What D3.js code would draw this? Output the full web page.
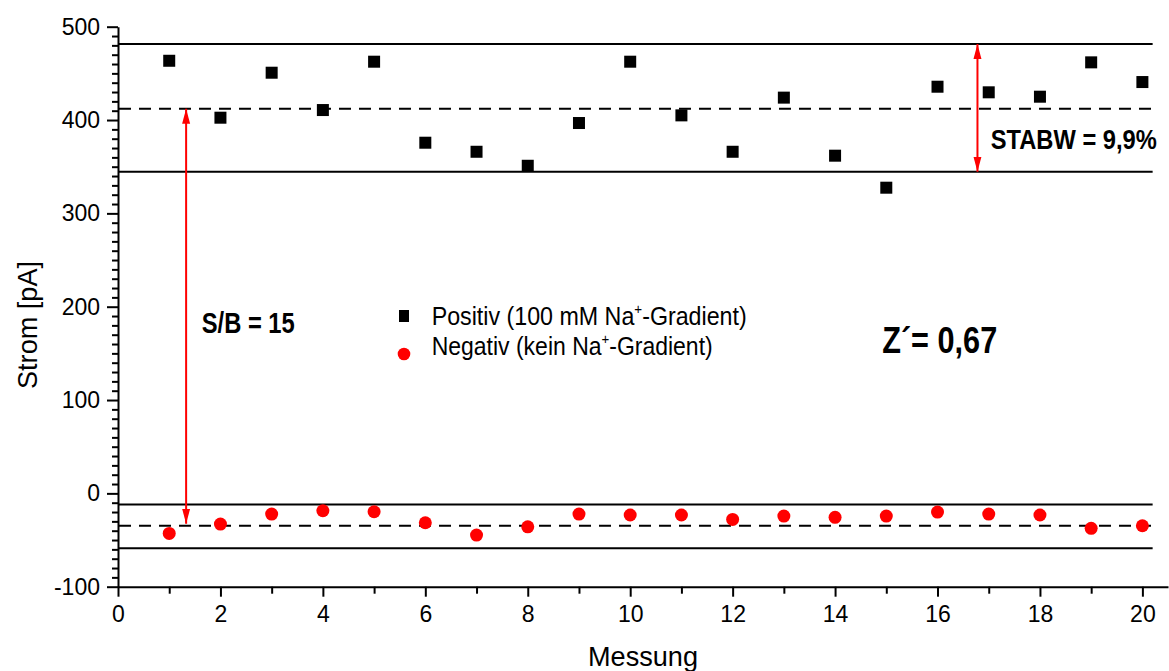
<!DOCTYPE html>
<html>
<head>
<meta charset="utf-8">
<script src="https://cdn.jsdelivr.net/npm/d3@7"></script>
<style>
  body { margin: 0; background: #fff; }
  svg { display: block; font-family: "Liberation Sans", Arial, sans-serif; }
</style>
</head>
<body>
<svg id="chart" width="1169" height="671"></svg>
<script>
// Messung 1..20
const messung = d3.range(1, 21)
const positiv = [463.5, 402.5, 450.7, 410.7, 462.5, 375.7, 366, 351, 396.8, 462.5,
    405, 366, 424, 361.8, 327.5, 435.7, 429.7, 425, 461.8, 440.7]
const negativ = [-42.9, -32.9, -22.2, -18.6, -19.7, -31.5, -44.7, -35.8, -22.2, -23.2,
    -23.2, -27.9, -24.3, -25.7, -24.3, -20, -22.2, -23.2, -37.5, -34.7]

// mean and upper/lower bands
const posLines = { upper: 481.4, mean: 412.1, lower: 344.6 }
const negLines = { upper: -11.8, mean: -34.7, lower: -58.9 }

const yMajorTicks = [-100, 0, 100, 200, 300, 400, 500]
const xMajorTicks = [0, 2, 4, 6, 8, 10, 12, 14, 16, 18, 20]

const legendLabels = [
    { pre: "Positiv (100 mM Na", post: "-Gradient)" },
    { pre: "Negativ (kein Na", post: "-Gradient)" }
]

const svg = d3.select("#chart")
const margin = { top: 26.7, right: 1, bottom: 84.3, left: 118 }
const w = 1169
const h = 671

const x = d3.scaleLinear()
    .domain([0, 20.5])
    .range([margin.left, w - margin.right])
const y = d3.scaleLinear()
    .domain([-100, 500])
    .range([h - margin.bottom, margin.top])

const red = "#ff0000"

// arrow heads
svg.append("defs")
    .append("marker")
    .attr("id", "head")
    .attr("viewBox", "0 -5 16 10")
    .attr("refX", 15)
    .attr("refY", 0)
    .attr("markerUnits", "userSpaceOnUse")
    .attr("markerWidth", 16)
    .attr("markerHeight", 10)
    .attr("orient", "auto-start-reverse")
    .append("path")
    .attr("d", "M0,-4L15,0L0,4Z")
    .attr("fill", red)

// minor ticks first, so the main axis sits on top
const yMinor = d3.range(-100, 501, 10).filter(v => v % 100 !== 0)
svg.append("g")
    .attr("transform", `translate(${margin.left},0)`)
    .call(d3.axisLeft(y).tickValues(yMinor).tickSize(6).tickFormat(""))
    .call(g => g.select(".domain").remove())
    .call(g => g.selectAll("line").attr("stroke-width", 2))

svg.append("g")
    .attr("transform", `translate(0,${y(-100)})`)
    .call(d3.axisBottom(x).tickValues(d3.range(1, 20, 2)).tickSize(7).tickFormat(""))
    .call(g => g.select(".domain").remove())
    .call(g => g.selectAll("line").attr("stroke-width", 2))

const yAxis = svg.append("g")
    .attr("transform", `translate(${margin.left},0)`)
    .call(d3.axisLeft(y).tickValues(yMajorTicks).tickSize(11).tickSizeOuter(0)
        .tickPadding(7).tickFormat(d => String(d)))
yAxis.select(".domain").attr("stroke-width", 2)
yAxis.selectAll("line").attr("stroke-width", 2)
yAxis.selectAll("text").attr("font-size", 23).attr("fill", "#000")
    .attr("font-family", "'Liberation Sans', Arial, sans-serif")

const xAxis = svg.append("g")
    .attr("transform", `translate(0,${y(-100)})`)
    .call(d3.axisBottom(x).tickValues(xMajorTicks).tickSize(10).tickSizeOuter(0)
        .tickPadding(9).tickFormat(d => String(d)))
xAxis.select(".domain").attr("stroke-width", 2)
xAxis.selectAll("line").attr("stroke-width", 2)
xAxis.selectAll("text").attr("font-size", 23).attr("fill", "#000")
    .attr("font-family", "'Liberation Sans', Arial, sans-serif")

// axis titles
svg.append("text")
    .attr("x", (x.range()[0] + x.range()[1]) / 2)
    .attr("y", 666)
    .attr("text-anchor", "middle")
    .attr("font-size", 28)
    .attr("textLength", 110)
    .attr("lengthAdjust", "spacingAndGlyphs")
    .text("Messung")

svg.append("text")
    .attr("transform", `translate(37,325) rotate(-90)`)
    .attr("text-anchor", "middle")
    .attr("font-size", 28)
    .attr("textLength", 128)
    .attr("lengthAdjust", "spacingAndGlyphs")
    .text("Strom [pA]")

// reference lines
const refLines = [
    { v: posLines.upper, dash: null },
    { v: posLines.mean, dash: "12,8" },
    { v: posLines.lower, dash: null },
    { v: negLines.upper, dash: null },
    { v: negLines.mean, dash: "12,8" },
    { v: negLines.lower, dash: null }
]
svg.append("g")
    .selectAll("line")
    .data(refLines)
    .join("line")
    .attr("x1", x(0) + 1)
    .attr("x2", x(20.2))
    .attr("y1", d => y(d.v))
    .attr("y2", d => y(d.v))
    .attr("stroke", "#000")
    .attr("stroke-width", 2)
    .attr("stroke-dasharray", d => d.dash)

// red arrows
svg.append("line")
    .attr("x1", x(1.33)).attr("x2", x(1.33))
    .attr("y1", y(posLines.mean)).attr("y2", y(negLines.mean) - 2)
    .attr("stroke", red).attr("stroke-width", 2)
    .attr("marker-start", "url(#head)")
    .attr("marker-end", "url(#head)")

svg.append("line")
    .attr("x1", x(16.78)).attr("x2", x(16.78))
    .attr("y1", y(posLines.upper)).attr("y2", y(posLines.lower))
    .attr("stroke", red).attr("stroke-width", 2)
    .attr("marker-start", "url(#head)")
    .attr("marker-end", "url(#head)")

// data
const sq = 12
svg.append("g")
    .selectAll("rect")
    .data(positiv)
    .join("rect")
    .attr("x", (d, i) => x(messung[i]) - sq / 2)
    .attr("y", d => y(d) - sq / 2)
    .attr("width", sq)
    .attr("height", sq)
    .attr("fill", "#000")

svg.append("g")
    .selectAll("circle")
    .data(negativ)
    .join("circle")
    .attr("cx", (d, i) => x(messung[i]))
    .attr("cy", d => y(d))
    .attr("r", 6.5)
    .attr("fill", red)

// annotations
const bold = (sel, px, txt, len) => sel
    .attr("font-size", px)
    .attr("font-weight", "bold")
    .attr("textLength", len)
    .attr("lengthAdjust", "spacingAndGlyphs")
    .text(txt)

svg.append("text")
    .attr("x", x(1.635)).attr("y", y(171.5))
    .call(bold, 29, "S/B = 15", 93)

svg.append("text")
    .attr("x", x(17.04)).attr("y", y(369))
    .call(bold, 27, "STABW = 9,9%", 166)

svg.append("text")
    .attr("x", x(14.92)).attr("y", y(150))
    .call(bold, 36, "Z\u00b4= 0,67", 115)

// legend
const legend = svg.append("g").attr("transform", "translate(404,316)")
legend.append("rect")
    .attr("x", -5).attr("y", -6)
    .attr("width", 10).attr("height", 12)
    .attr("fill", "#000")
legend.append("circle")
    .attr("cx", 0).attr("cy", 38)
    .attr("r", 6.3)
    .attr("fill", red)

const legendText = legend.selectAll("text")
    .data(legendLabels)
    .join("text")
    .attr("x", 27.7)
    .attr("y", (d, i) => 9 + i * 30)
    .attr("font-size", 26)
    .attr("textLength", (d, i) => i === 0 ? 315 : 281)
    .attr("lengthAdjust", "spacingAndGlyphs")
legendText.append("tspan").text(d => d.pre)
legendText.append("tspan")
    .attr("font-size", 15)
    .attr("dy", -11)
    .text("+")
legendText.append("tspan")
    .attr("dy", 11)
    .text(d => d.post)
</script>
</body>
</html>
